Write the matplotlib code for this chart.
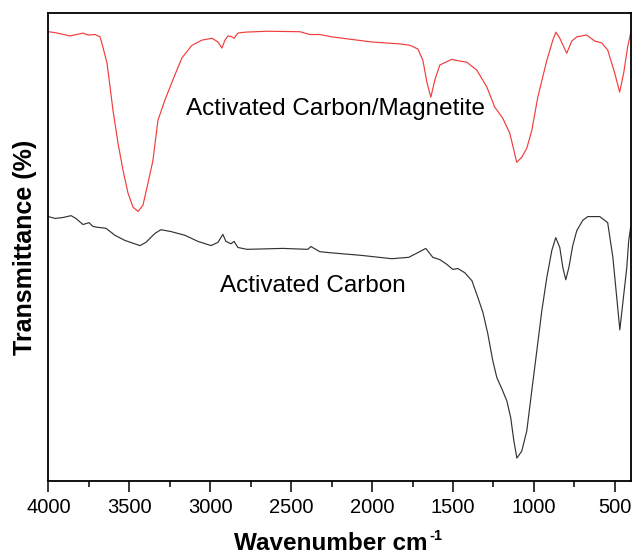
import numpy as np
import matplotlib
matplotlib.use('Agg')
import matplotlib.pyplot as plt
from matplotlib.ticker import MultipleLocator

plt.rcParams['font.family'] = ['Liberation Sans', 'DejaVu Sans']

# FTIR spectrum, activated carbon / magnetite composite (wavenumber, transmittance)
wn_acm = [4000, 3959, 3867, 3786, 3755, 3712, 3681, 3663, 3638, 3619, 3601, 3570, 3539, 3508,
          3477, 3446, 3416, 3385, 3354, 3323, 3280, 3231, 3175, 3113, 3051, 2989, 2952, 2928,
          2909, 2890, 2866, 2853, 2829, 2786, 2650, 2446, 2384, 2323, 2249, 2001, 1828, 1766,
          1717, 1686, 1661, 1637, 1612, 1581, 1507, 1470, 1415, 1353, 1291, 1242, 1192, 1149,
          1124, 1106, 1075, 1044, 1013, 976, 920, 883, 864, 840, 797, 766, 735, 674, 624, 581,
          544, 501, 470, 445, 421, 402]
t_acm = [96.0, 95.8, 95.1, 95.7, 95.3, 95.4, 94.9, 92.7, 89.3, 84.2, 79.2, 72.2, 66.4, 61.5,
         58.5, 57.6, 58.9, 63.6, 68.5, 77.1, 81.4, 85.7, 90.4, 93.1, 94.2, 94.6, 93.8, 92.5,
         94.2, 95.1, 94.9, 94.6, 95.7, 95.9, 96.1, 96.0, 95.4, 95.4, 94.9, 93.8, 93.4, 93.1,
         92.3, 89.9, 85.2, 82.0, 85.7, 88.9, 90.1, 89.8, 89.5, 87.8, 84.2, 79.9, 77.5, 74.3,
         70.7, 68.1, 69.2, 71.1, 74.9, 82.0, 89.9, 94.2, 95.9, 94.6, 91.4, 94.0, 94.9, 95.3,
         94.0, 93.6, 92.1, 87.2, 83.1, 87.2, 92.7, 95.7]

# FTIR spectrum, activated carbon
wn_ac = [4000, 3959, 3910, 3860, 3830, 3786, 3749, 3725, 3694, 3644, 3589, 3527, 3434, 3397,
         3342, 3305, 3243, 3156, 3076, 2995, 2952, 2922, 2903, 2872, 2853, 2829, 2773, 2551,
         2397, 2378, 2323, 2267, 2063, 1878, 1773, 1717, 1668, 1625, 1581, 1538, 1501, 1470,
         1427, 1383, 1346, 1315, 1285, 1254, 1229, 1198, 1167, 1143, 1124, 1105, 1075, 1044,
         1013, 982, 951, 920, 889, 865, 840, 821, 803, 784, 760, 735, 698, 667, 593, 544,
         512, 488, 469, 451, 426, 414, 402]
t_ac = [56.5, 56.1, 56.3, 56.7, 56.1, 54.8, 55.2, 54.4, 54.2, 54.0, 52.5, 51.4, 50.3, 51.0,
        52.9, 53.7, 53.3, 52.5, 51.2, 50.3, 51.0, 52.7, 51.2, 50.7, 51.2, 49.9, 49.5, 49.7,
        49.5, 50.1, 49.0, 48.8, 48.2, 47.5, 47.8, 48.8, 49.7, 47.8, 47.3, 46.3, 45.2, 45.4,
        44.5, 42.8, 39.2, 36.0, 31.5, 25.7, 22.1, 19.7, 17.1, 13.5, 8.6, 4.9, 6.4, 10.7,
        19.3, 27.8, 36.4, 43.5, 49.3, 52.0, 49.9, 45.6, 43.0, 45.6, 50.3, 53.5, 55.7, 56.5,
        56.5, 55.2, 47.8, 39.2, 32.3, 37.9, 45.6, 51.4, 54.2]

fig = plt.figure(figsize=(6.32, 5.55), dpi=100)
ax = fig.add_axes([0.0766, 0.1333, 0.9218, 0.8433])

ax.plot(wn_acm, t_acm, color='#f23c3c', lw=0.85, solid_joinstyle='round')
ax.plot(wn_ac, t_ac, color='#333333', lw=0.85, solid_joinstyle='round')

ax.text(3152, 78.2, 'Activated Carbon/Magnetite', fontsize=17.5, ha='left', va='baseline')
ax.text(2940, 40.3, 'Activated Carbon', fontsize=17.5, ha='left', va='baseline')

ax.set_xlim(4000, 400)
ax.set_ylim(0, 100)
ax.xaxis.set_major_locator(MultipleLocator(500))
ax.xaxis.set_minor_locator(MultipleLocator(250))
ax.tick_params(axis='x', which='major', direction='out', length=8, width=1.1, labelsize=14.5, pad=4)
ax.tick_params(axis='x', which='minor', direction='out', length=4.5, width=1.1)
ax.set_yticks([])
for s in ax.spines.values():
    s.set_linewidth(1.3)

# x label with a small hyphen superscript
fig.text(428 / 632, 1 - 550 / 555, 'Wavenumber cm', fontsize=17.5, fontweight='bold',
         ha='right', va='baseline')
fig.text(429 / 632, 1 - 540 / 555, '-1', fontsize=10.5, fontweight='bold',
         ha='left', va='baseline')
ax.set_ylabel('Transmittance (%)', fontsize=18, fontweight='bold', labelpad=8)

fig.savefig('out.png', dpi=100)
